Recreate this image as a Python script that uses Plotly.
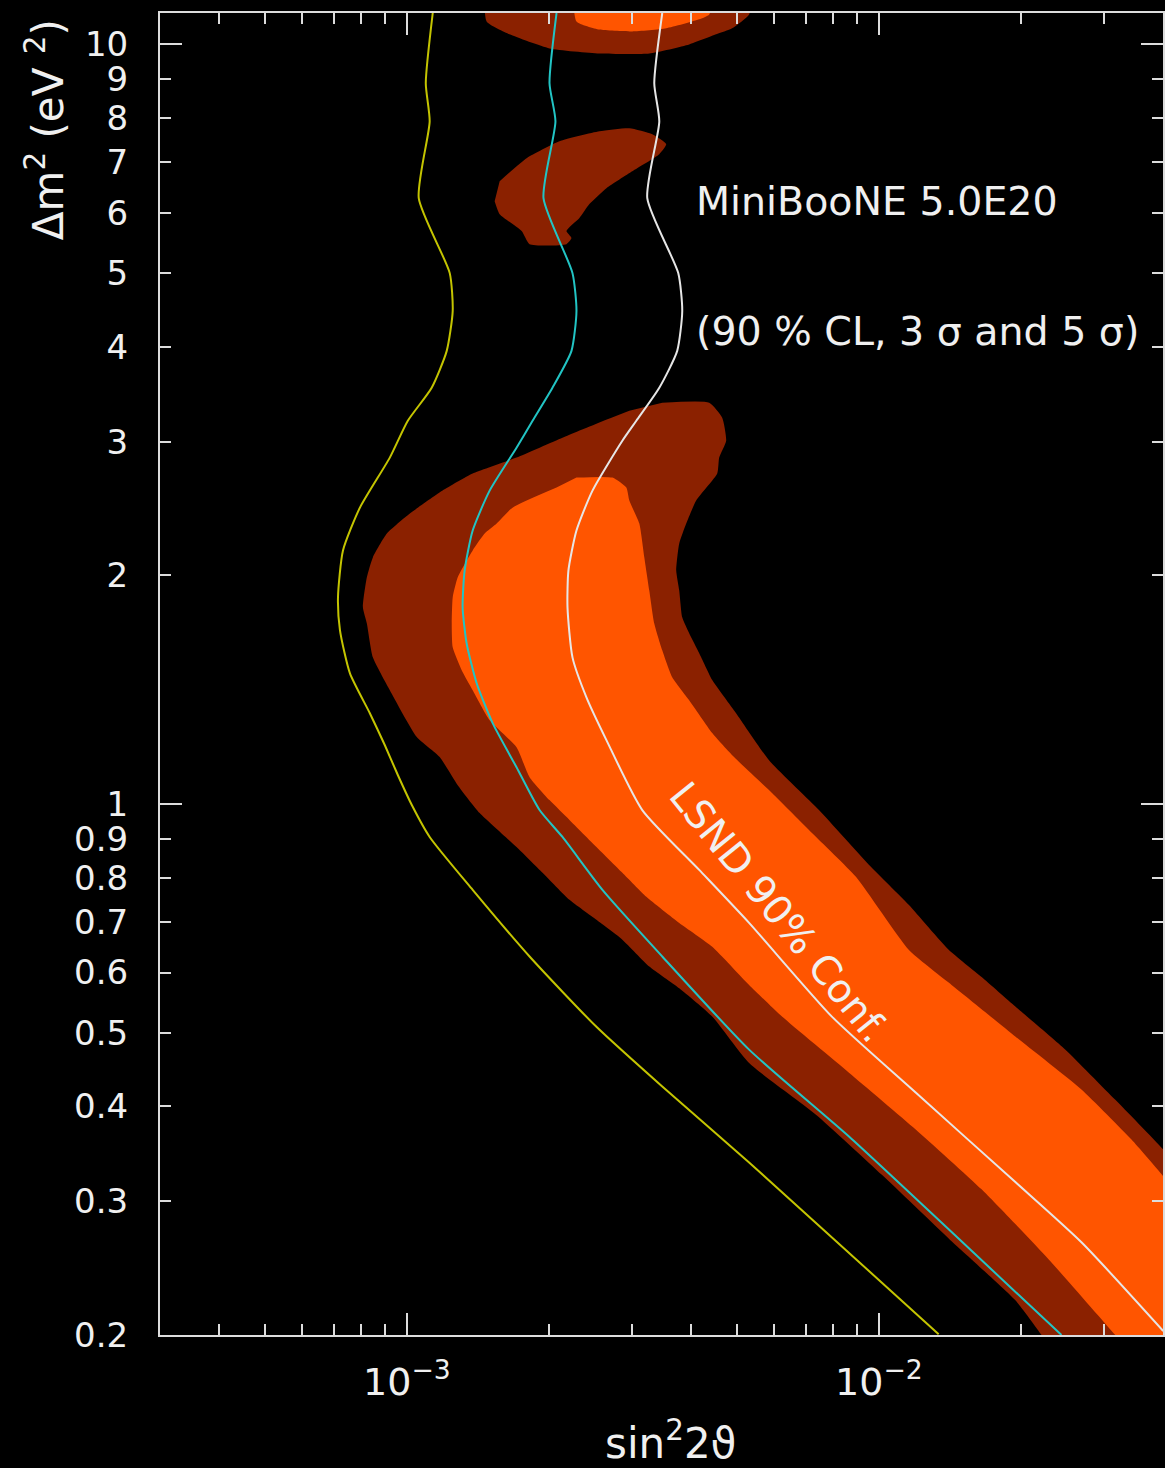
import math
import plotly.graph_objects as go

# ---------------- data (sin^2 2theta, delta m^2 [eV^2]) ----------------
# MiniBooNE 5.0E20 sensitivity: 90% CL (yellow), 3 sigma (cyan), 5 sigma (white)
cl90_x = [1.135e-3, 1.097e-3, 1.118e-3, 1.060e-3, 1.233e-3, 1.251e-3, 1.215e-3, 1.129e-3,
          1.005e-3, 0.9205e-3, 0.7956e-3, 0.7325e-3, 0.7148e-3, 0.7218e-3, 0.7578e-3,
          0.8350e-3, 0.8985e-3, 0.9571e-3, 1.0247e-3, 1.118e-3, 1.379e-3, 1.820e-3,
          2.522e-3, 3.477e-3, 5.311e-3, 13.39e-3]
cl90_y = [11.0, 8.889, 7.92, 6.275, 5.00, 4.459, 3.950, 3.532, 3.196, 2.858, 2.456, 2.157,
          1.871, 1.693, 1.486, 1.317, 1.195, 1.092, 0.997, 0.905, 0.771, 0.630, 0.509,
          0.4247, 0.3375, 0.2005]

sig3_x = [2.076e-3, 2.006e-3, 2.065e-3, 1.948e-3, 2.244e-3, 2.288e-3, 2.233e-3, 2.035e-3,
          1.847e-3, 1.708e-3, 1.498e-3, 1.379e-3, 1.326e-3, 1.313e-3, 1.339e-3, 1.406e-3,
          1.520e-3, 1.708e-3, 1.911e-3, 2.137e-3, 2.597e-3, 3.477e-3, 5.311e-3, 8.645e-3,
          14.06e-3, 24.38e-3]
sig3_y = [11.0, 8.889, 7.92, 6.275, 5.00, 4.459, 3.950, 3.532, 3.196, 2.945, 2.586, 2.291,
          2.030, 1.815, 1.627, 1.442, 1.278, 1.118, 0.982, 0.905, 0.771, 0.630, 0.475,
          0.3650, 0.2755, 0.2]

sig5_x = [3.477e-3, 3.344e-3, 3.427e-3, 3.232e-3, 3.759e-3, 3.833e-3, 3.740e-3, 3.427e-3,
          3.064e-3, 2.862e-3, 2.474e-3, 2.288e-3, 2.200e-3, 2.190e-3, 2.244e-3, 2.402e-3,
          2.648e-3, 3.154e-3, 4.164e-3, 5.311e-3, 7.954e-3, 11.97e-3, 19.49e-3, 26.87e-3,
          40.05e-3]
sig5_y = [11.0, 8.889, 7.92, 6.275, 5.00, 4.459, 3.950, 3.532, 3.196, 3.008, 2.586, 2.291,
          2.030, 1.815, 1.560, 1.382, 1.214, 0.982, 0.819, 0.6975, 0.525, 0.417, 0.3177,
          0.2649, 0.2024]

# LSND allowed regions: outer (dark red) and 90% (orange)
lsnd_outer_x = [3.477e-3, 4.372e-3, 4.658e-3, 4.749e-3, 4.590e-3, 4.546e-3, 4.103e-3, 3.908e-3,
                3.777e-3, 3.722e-3, 3.777e-3, 3.833e-3, 3.965e-3, 4.164e-3, 4.437e-3, 4.984e-3,
                5.853e-3, 7.468e-3, 9.526e-3, 11.57e-3, 14.06e-3, 16.51e-3, 19.49e-3, 24.85e-3,
                31.70e-3, 40.05e-3, 50e-3, 50e-3, 25.0e-3, 22.12e-3, 19.49e-3, 14.06e-3,
                10.15e-3, 7.359e-3, 5.311e-3, 4.437e-3, 3.777e-3, 3.264e-3, 2.862e-3, 2.522e-3,
                2.211e-3, 1.939e-3, 1.708e-3, 1.427e-3, 1.282e-3, 1.174e-3, 1.050e-3, 0.9205e-3,
                0.8474e-3, 0.8229e-3, 0.8073e-3, 0.8229e-3, 0.8474e-3, 0.9073e-3, 1.015e-3,
                1.191e-3, 1.379e-3, 1.708e-3, 2.137e-3, 2.522e-3, 2.961e-3]
lsnd_outer_y = [3.375, 3.375, 3.225, 3.008, 2.858, 2.723, 2.509, 2.340, 2.203, 2.030, 1.911,
                1.761, 1.678, 1.579, 1.456, 1.317, 1.142, 0.982, 0.832, 0.737, 0.643, 0.592,
                0.541, 0.475, 0.408, 0.351, 0.30, 0.18, 0.18, 0.2, 0.222, 0.268, 0.325, 0.390,
                0.456, 0.525, 0.572, 0.611, 0.663, 0.704, 0.748, 0.812, 0.878, 0.973, 1.059,
                1.153, 1.225, 1.412, 1.560, 1.729, 1.815, 1.988, 2.112, 2.270, 2.412, 2.586,
                2.723, 2.858, 3.036, 3.167, 3.294]

lsnd90_x = [2.288e-3, 2.726e-3, 2.918e-3, 2.961e-3, 3.109e-3, 3.186e-3, 3.264e-3, 3.344e-3,
            3.477e-3, 3.650e-3, 3.965e-3, 4.437e-3, 4.935e-3, 5.939e-3, 7.218e-3, 8.943e-3,
            11.57e-3, 14.06e-3, 19.49e-3, 26.87e-3, 34.26e-3, 40.05e-3, 50e-3, 50e-3, 37e-3,
            31.70e-3, 22.88e-3, 16.51e-3, 11.97e-3, 8.645e-3, 6.236e-3, 5.311e-3, 4.437e-3,
            3.777e-3, 3.217e-3, 2.862e-3, 2.522e-3, 2.211e-3, 2.006e-3, 1.820e-3, 1.708e-3,
            1.498e-3, 1.379e-3, 1.307e-3, 1.251e-3, 1.245e-3, 1.251e-3, 1.282e-3, 1.379e-3,
            1.462e-3, 1.550e-3, 1.675e-3, 2.076e-3]
lsnd90_y = [2.690, 2.690, 2.610, 2.509, 2.340, 2.112, 1.911, 1.729, 1.594, 1.469, 1.370, 1.240,
            1.153, 1.034, 0.916, 0.802, 0.643, 0.582, 0.494, 0.421, 0.362, 0.3236, 0.27, 0.18,
            0.18, 0.2, 0.2517, 0.311, 0.373, 0.443, 0.525, 0.578, 0.649, 0.6975, 0.755, 0.812,
            0.878, 0.953, 1.012, 1.085, 1.188, 1.289, 1.412, 1.500, 1.608, 1.729, 1.871, 1.988,
            2.157, 2.270, 2.340, 2.456, 2.610]

island_mid_x = [1.573e-3, 1.794e-3, 2.106e-3, 2.559e-3, 2.961e-3, 3.312e-3, 3.545e-3, 3.427e-3,
                3.004e-3, 2.648e-3, 2.437e-3, 2.321e-3, 2.179e-3, 2.233e-3, 2.179e-3, 1.820e-3,
                1.751e-3, 1.573e-3, 1.535e-3]
island_mid_y = [6.607, 7.083, 7.457, 7.687, 7.757, 7.617, 7.390, 7.170, 6.809, 6.468, 6.163,
                5.907, 5.680, 5.560, 5.459, 5.459, 5.680, 5.978, 6.219]

island_top_outer_x = [1.46e-3, 1.476e-3, 1.651e-3, 2.006e-3, 2.559e-3, 3.264e-3, 3.965e-3,
                      4.523e-3, 4.888e-3, 5.311e-3, 5.4e-3]
island_top_outer_y = [12.0, 10.72, 10.31, 9.88, 9.73, 9.73, 10.0, 10.31, 10.50, 10.95, 12.0]

island_top_90_x = [2.244e-3, 2.288e-3, 2.559e-3, 3.004e-3, 3.545e-3, 4.164e-3, 4.372e-3, 4.5e-3]
island_top_90_y = [12.0, 10.72, 10.46, 10.40, 10.50, 10.79, 10.95, 12.0]

# axis ticks
x_major = [1e-3, 1e-2]
x_major_text = ["10<sup>\u22123</sup>", "10<sup>\u22122</sup>"]
x_minor = [4e-4, 5e-4, 6e-4, 7e-4, 8e-4, 9e-4, 2e-3, 3e-3, 4e-3, 5e-3, 6e-3, 7e-3, 8e-3, 9e-3,
           2e-2, 3e-2]
y_ticks = [0.2, 0.3, 0.4, 0.5, 0.6, 0.7, 0.8, 0.9, 1, 2, 3, 4, 5, 6, 7, 8, 9, 10]
y_labels = ["0.2", "0.3", "0.4", "0.5", "0.6", "0.7", "0.8", "0.9", "1", "2", "3", "4", "5",
            "6", "7", "8", "9", "10"]
y_long = [1, 10]

X_RANGE = [math.log10(3e-4), math.log10(0.04)]
Y_RANGE = [math.log10(0.2), math.log10(11)]

DARK = "#8b2100"
ORANGE = "#ff5500"
AX = "#dcdcdc"
TXT = "#f0f0f0"
FONT = "DejaVu Sans"

fig = go.Figure()


def region(xs, ys, color):
    fig.add_trace(go.Scatter(x=xs, y=ys, mode="lines", fill="toself", fillcolor=color,
                             line=dict(width=0, color=color, shape="spline", smoothing=0.5),
                             hoverinfo="skip", showlegend=False))


region(lsnd_outer_x, lsnd_outer_y, DARK)
region(lsnd90_x, lsnd90_y, ORANGE)
region(island_mid_x, island_mid_y, DARK)
region(island_top_outer_x, island_top_outer_y, DARK)
region(island_top_90_x, island_top_90_y, ORANGE)

for xs, ys, col in [(cl90_x, cl90_y, "#c4c400"), (sig3_x, sig3_y, "#22c4c4"),
                    (sig5_x, sig5_y, "#e6e6e6")]:
    fig.add_trace(go.Scatter(x=xs, y=ys, mode="lines",
                             line=dict(color=col, width=2, shape="spline", smoothing=0.6),
                             hoverinfo="skip", showlegend=False))

# dummy trace for overlay axis carrying the long y ticks
fig.add_trace(go.Scatter(x=[1e-3], y=[1], yaxis="y2", mode="markers",
                         marker=dict(opacity=0), hoverinfo="skip", showlegend=False))

fig.update_layout(
    width=1165, height=1468,
    margin=dict(l=160, r=0, t=13, b=133),
    paper_bgcolor="black", plot_bgcolor="black",
    showlegend=False,
    font=dict(family=FONT, color=TXT, size=35),
    xaxis=dict(type="log", range=X_RANGE, tickmode="array", tickvals=x_major,
               ticktext=x_major_text, ticks="inside", ticklen=22, tickwidth=2,
               tickcolor=AX, showline=True, linecolor=AX, linewidth=2, mirror="ticks",
               showgrid=False, zeroline=False, ticklabelstandoff=12,
               tickfont=dict(family=FONT, size=38, color=TXT),
               minor=dict(tickmode="array", tickvals=x_minor, ticks="inside", ticklen=11,
                          tickwidth=2, tickcolor=AX, showgrid=False)),
    yaxis=dict(type="log", range=Y_RANGE, tickmode="array", tickvals=y_ticks,
               ticktext=y_labels, ticks="inside", ticklen=11, tickwidth=2, tickcolor=AX,
               showline=True, linecolor=AX, linewidth=2, mirror="ticks", showgrid=False,
               zeroline=False, ticklabelstandoff=23,
               tickfont=dict(family=FONT, size=34, color=TXT)),
    yaxis2=dict(type="log", range=Y_RANGE, overlaying="y", side="left", tickmode="array",
                tickvals=y_long, ticks="inside", ticklen=22, tickwidth=2, tickcolor=AX,
                showline=True, linecolor=AX, linewidth=2, mirror="ticks",
                showticklabels=False, showgrid=False, zeroline=False),
)

ann_font = dict(family=FONT, size=39.5, color=TXT)
fig.add_annotation(x=math.log10(4.06e-3), y=math.log10(6.22), xref="x", yref="y",
                   text="MiniBooNE 5.0E20", showarrow=False, xanchor="left",
                   yanchor="middle", font=ann_font)
fig.add_annotation(x=math.log10(4.06e-3), y=math.log10(4.20), xref="x", yref="y",
                   text="(90 % CL, 3 \u03c3 and 5 \u03c3)", showarrow=False, xanchor="left",
                   yanchor="middle", font=ann_font)
fig.add_annotation(x=math.log10(6.15e-3), y=math.log10(0.721), xref="x", yref="y",
                   text="LSND 90% Conf.", showarrow=False, textangle=51,
                   xanchor="center", yanchor="middle", font=ann_font)
fig.add_annotation(x=(46 - 160) / 1005, y=(1335 - 130) / 1322, xref="paper", yref="paper",
                   text="\u0394m<sup>2</sup> (eV <sup>2</sup>)", showarrow=False,
                   textangle=-90, xanchor="center", yanchor="middle",
                   font=dict(family=FONT, size=42, color=TXT))
fig.add_annotation(x=(672 - 160) / 1005, y=(1335 - 1441) / 1322, xref="paper", yref="paper",
                   text="sin<sup>2</sup>2\u03d1", showarrow=False,
                   xanchor="center", yanchor="middle",
                   font=dict(family=FONT, size=42, color=TXT))

fig.write_html("out.html")
